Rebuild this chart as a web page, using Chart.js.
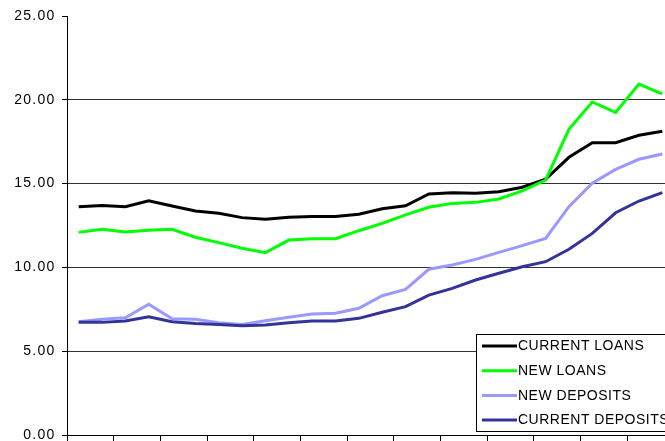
<!DOCTYPE html>
<html>
<head>
<meta charset="utf-8">
<script src="https://cdn.jsdelivr.net/npm/chart.js@4.4.0/dist/chart.umd.min.js"></script>
<style>
  html, body { margin: 0; padding: 0; background: #fff; overflow: hidden; }
  #wrap { width: 674px; height: 441px; }
</style>
</head>
<body>
<div id="wrap"><canvas id="rates" width="674" height="441"></canvas></div>
<script>
// Periods (axis has no visible labels, one tick mark every two periods)
const periods = ['1', '2', '3', '4', '5', '6', '7', '8', '9', '10', '11', '12', '13',
  '14', '15', '16', '17', '18', '19', '20', '21', '22', '23', '24', '25', '26'];

const currentLoans = [13.62, 13.70, 13.62, 13.98, 13.66, 13.37, 13.23, 12.97, 12.87, 12.99, 13.03, 13.03, 13.17,
  13.50, 13.68, 14.38, 14.46, 14.42, 14.52, 14.78, 15.26, 16.57, 17.44, 17.44, 17.88, 18.12];
const newLoans = [12.09, 12.27, 12.11, 12.21, 12.27, 11.80, 11.48, 11.14, 10.88, 11.63, 11.71, 11.71, 12.19,
  12.63, 13.13, 13.59, 13.82, 13.88, 14.08, 14.56, 15.21, 18.24, 19.87, 19.25, 20.94, 20.35];
const newDeposits = [6.76, 6.90, 7.00, 7.80, 6.94, 6.90, 6.70, 6.60, 6.82, 7.02, 7.22, 7.26, 7.56,
  8.31, 8.69, 9.89, 10.14, 10.48, 10.90, 11.30, 11.73, 13.62, 15.02, 15.85, 16.45, 16.77];
const currentDeposits = [6.72, 6.72, 6.80, 7.06, 6.76, 6.66, 6.60, 6.52, 6.57, 6.70, 6.80, 6.80, 6.96,
  7.32, 7.66, 8.35, 8.75, 9.25, 9.65, 10.04, 10.34, 11.08, 12.03, 13.26, 13.96, 14.46];

const yTicks = [0, 5, 10, 15, 20, 25];

const FONT = '"Liberation Sans", Arial, sans-serif';

function series(label, data, color, order) {
  return {
    label: label,
    data: data,
    borderColor: color,
    backgroundColor: color,
    borderWidth: 3,
    pointRadius: 0,
    tension: 0,
    fill: false,
    order: order
  };
}

// wide spacing on the axis numbers
const spacing = {
  id: 'spacing',
  beforeDraw(chart) {
    chart.ctx.letterSpacing = '1.25px';
  }
};

// boxed legend sitting over the lower right of the plot
const boxLegend = {
  id: 'boxLegend',
  afterDraw(chart) {
    const ctx = chart.ctx;
    const left = 476.5, top = 334.5, bottom = 431.5, right = 700;
    ctx.save();
    ctx.fillStyle = '#fff';
    ctx.fillRect(left, top, right - left, bottom - top);
    ctx.strokeStyle = '#000';
    ctx.lineWidth = 1;
    ctx.strokeRect(left, top, right - left, bottom - top);
    ctx.font = '14px ' + FONT;
    ctx.letterSpacing = '0.5px';
    ctx.textBaseline = 'middle';
    ctx.textAlign = 'left';
    chart.data.datasets.forEach((ds, i) => {
      const y = 346 + i * 24.7;
      ctx.strokeStyle = ds.borderColor;
      ctx.lineWidth = 3;
      ctx.beginPath();
      ctx.moveTo(482, y);
      ctx.lineTo(517, y);
      ctx.stroke();
      ctx.fillStyle = '#000';
      ctx.fillText(ds.label, 518, y + 0.5);
    });
    ctx.restore();
  }
};

new Chart(document.getElementById('rates'), {
  type: 'line',
  data: {
    labels: periods,
    datasets: [
      series('CURRENT LOANS', currentLoans, '#000000', 4),
      series('NEW LOANS', newLoans, '#00FF00', 3),
      series('NEW DEPOSITS', newDeposits, '#9999FF', 2),
      series('CURRENT DEPOSITS', currentDeposits, '#333399', 1)
    ]
  },
  options: {
    responsive: false,
    animation: false,
    layout: { padding: { top: 16, left: 0, right: 0, bottom: 0 } },
    plugins: {
      legend: { display: false },
      tooltip: { enabled: false }
    },
    scales: {
      x: {
        offset: true,
        ticks: { display: false },
        grid: {
          offset: true,
          drawOnChartArea: false,
          tickLength: 6,
          tickColor: c => (c.index % 2 === 0 ? '#000' : 'rgba(0,0,0,0)')
        },
        border: { color: '#000', width: 1 }
      },
      y: {
        min: yTicks[0],
        max: yTicks[yTicks.length - 1],
        afterBuildTicks: s => { s.ticks = yTicks.map(v => ({ value: v })); },
        afterFit: s => {
          s.width = 67;
          s.paddingTop = 0;
          s.paddingBottom = 0;
        },
        ticks: {
          callback: v => v.toFixed(2),
          color: '#000',
          padding: 6.5,
          font: { family: FONT, size: 14 }
        },
        grid: {
          color: c => (c.tick && c.tick.value > 0 && c.tick.value < 25 ? '#333' : 'rgba(0,0,0,0)'),
          tickColor: '#000',
          tickLength: 5,
          lineWidth: 1
        },
        border: { color: '#000', width: 1 }
      }
    }
  },
  plugins: [spacing, boxLegend]
});
</script>
</body>
</html>
